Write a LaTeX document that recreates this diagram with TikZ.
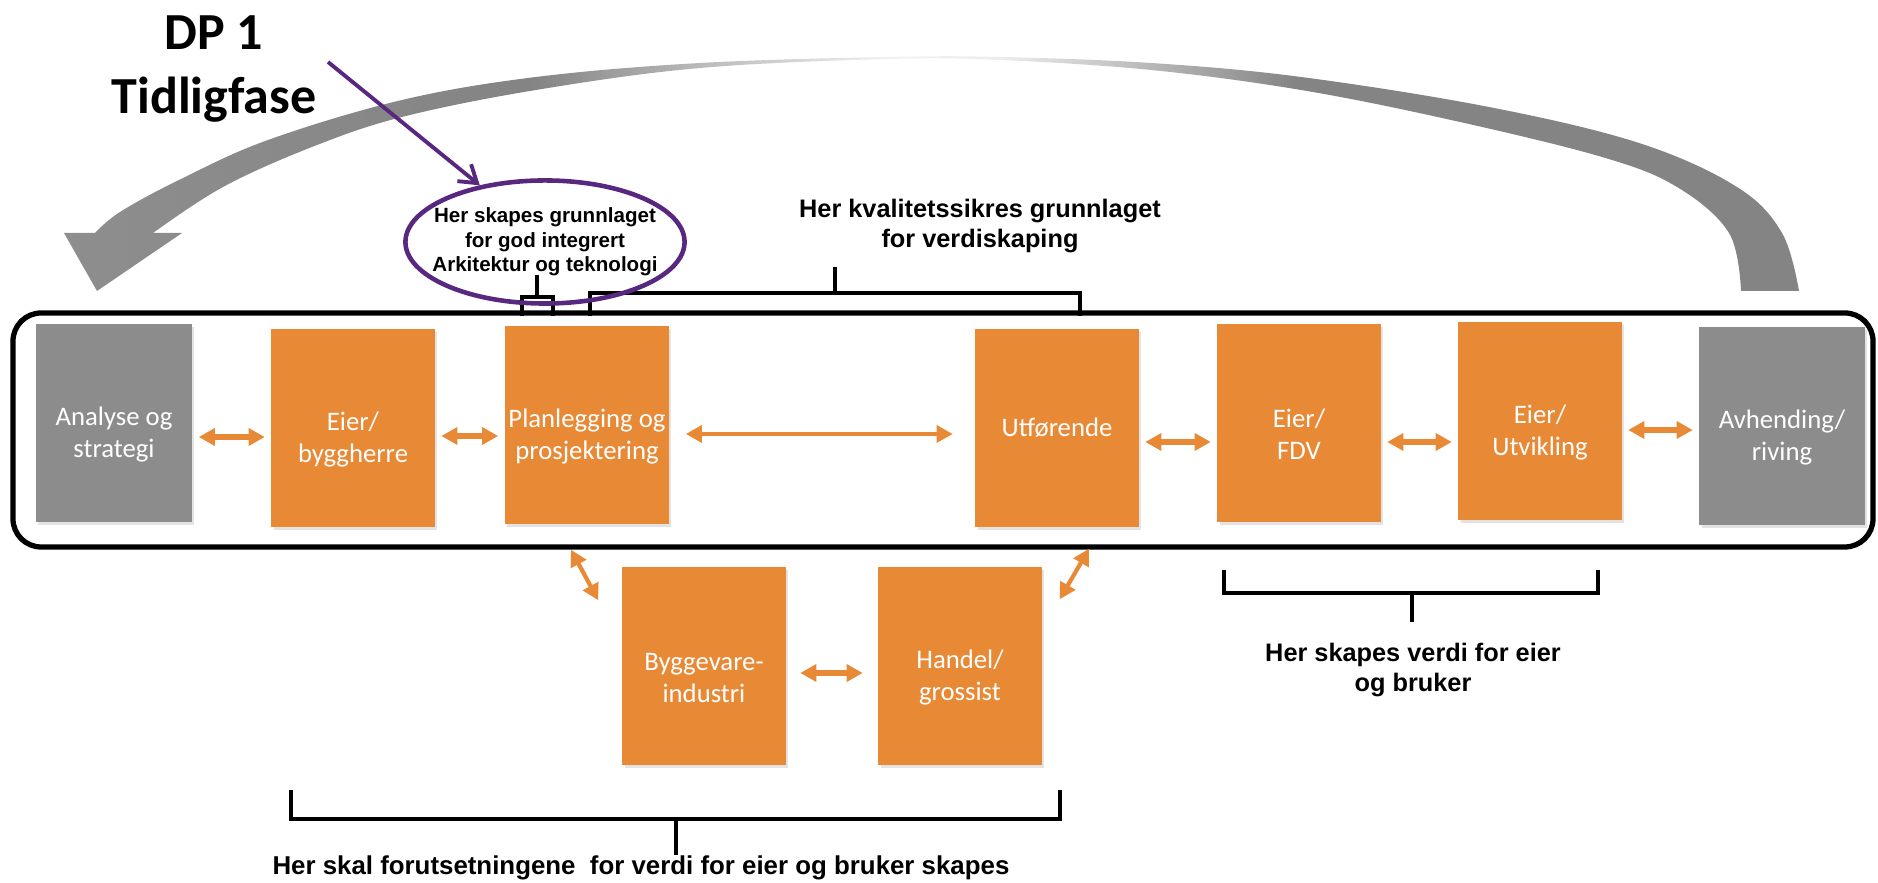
\documentclass[tikz,border=0pt]{standalone}
\usepackage{fontspec}
\setmainfont{Carlito}
\newfontfamily\VkLabelFont{Liberation Sans}
\usetikzlibrary{arrows.meta,shapes.geometric,shadows}

\definecolor{vkorange}{RGB}{232,137,54}
\definecolor{vkgrey}{RGB}{140,140,140}
\definecolor{vkarc}{RGB}{132,132,132}
\definecolor{vkpurple}{RGB}{88,40,128}
% the path is mapped onto 25bp..75bp of the shading
\pgfdeclarehorizontalshading{vkarcshade}{100bp}{color(0bp)=(vkarc!92); color(25bp)=(vkarc!92);
  color(38.5bp)=(vkarc); color(43.5bp)=(vkarc!55); color(48.75bp)=(vkarc!12);
  color(52bp)=(vkarc!15); color(56.5bp)=(vkarc!60); color(60.5bp)=(vkarc); color(100bp)=(vkarc)}

\def\VkBoxW{1.63cm}
\def\VkBoxH{1.98cm}
\def\VkLinkLW{1.9pt}
\def\VkLinkThinLW{1.2pt}
\def\VkBracketLW{1.4pt}
\def\VkFrameLW{1.5pt}
% lifts the first of two lines, as in the slide
\newcommand{\VkLift}{\rule{0pt}{11.9pt}}
\newcommand{\VerdikjedeStyles}{%
  \tikzset{
    vkbox/.style={rectangle, minimum width=\VkBoxW, minimum height=\VkBoxH,
      inner sep=1pt, align=center, text=white,
      font=\fontsize{7.6}{9.1}\selectfont,
      drop shadow={opacity=0.22, shadow xshift=0.6pt, shadow yshift=-0.9pt}},
    vkboxOrange/.style={vkbox, fill=vkorange},
    vkboxGrey/.style={vkbox, fill=vkgrey},
    vklink/.style={
      {Triangle[width=4.8pt,length=4.6pt]}-{Triangle[width=4.8pt,length=4.6pt]},
      draw=vkorange, line width=\VkLinkLW,
      shorten <=0.06cm, shorten >=0.06cm},
    vklinkThin/.style={vklink, line width=\VkLinkThinLW},
    vkframe/.style={draw=black, line width=\VkFrameLW, rounded corners=8pt},
    vkbracket/.style={draw=black, line width=\VkBracketLW, line join=miter},
    vklabel/.style={font=\VkLabelFont\bfseries\fontsize{7.2}{8.4}\selectfont,
      align=center, inner sep=0pt},
    vktitle/.style={font=\bfseries\fontsize{14.8}{18.2}\selectfont,
      align=center, inner sep=0pt},
    vkring/.style={ellipse, draw=vkpurple, line width=1.3pt,
      minimum width=2.79cm, minimum height=1.23cm,
      inner xsep=-0.16cm, inner ysep=0pt, align=center,
      font=\VkLabelFont\bfseries\fontsize{5.85}{6.9}\selectfont},
    vkpointer/.style={-{Straight Barb[length=4.7pt,width=6.2pt]},
      draw=vkpurple, line width=1.1pt},
    vkloop/.style={shading=vkarcshade},
  }%
}

\begin{document}
\begin{tikzpicture}[x=0.01cm, y=-0.01cm]
  \VerdikjedeStyles
  \useasboundingbox (0,0) rectangle (1878,883);

  % big return arrow
  \shade[vkloop]
    plot[smooth, tension=0.6] coordinates {(95,233) (120,212) (179,180)
      (268,140) (402,100) (536,77) (700,63) (888,57) (1000,57) (1151,63)
      (1301,77) (1489,107) (1639,143) (1737,187) (1782,233) (1799,291)}
    -- (1741,291)
    -- plot[smooth, tension=0.6] coordinates {(1741,291) (1729,233)
      (1677,187) (1602,157) (1451,120) (1301,90) (1151,70) (1000,60)
      (888,59) (700,68) (536,90) (402,117) (312,147) (223,187) (153,233)}
    -- (182,233) -- (97,291) -- (64,233) -- cycle;

  \draw[vkframe] (13,313) rectangle (1873,547);

  % value chain
  \node[vkboxGrey, minimum width=1.56cm] (analyse) at (114,423) {\VkLift Analyse og\\strategi};
  \node[vkboxOrange] (byggherre) at (353,428) {\VkLift Eier/\\byggherre};
  \node[vkboxOrange] (planlegging) at (587,425) {\VkLift Planlegging og\\prosjektering};
  \node[vkboxOrange] (utforende) at (1057,428) {Utførende};
  \node[vkboxOrange] (fdv) at (1299,423) {\VkLift Eier/\\FDV};
  \node[vkboxOrange] (utvikling) at (1540,421) {\VkLift Eier/\\Utvikling};
  \node[vkboxGrey, minimum width=1.65cm] (avhending) at (1782,426) {\VkLift Avhending/\\riving};
  \node[vkboxOrange] (byggevare) at (704,666) {\VkLift Byggevare-\\industri};
  \node[vkboxOrange] (handel) at (960,666) {\VkLift Handel/\\grossist};

  \draw[vklink] ([yshift=-0.14cm]analyse.east) -- ([yshift=-0.14cm]analyse.east -| byggherre.west);
  \draw[vklink] ([yshift=-0.08cm]byggherre.east) -- ([yshift=-0.08cm]byggherre.east -| planlegging.west);
  \draw[vklinkThin, shorten <=0.16cm, shorten >=0.22cm]
    ([yshift=-0.09cm]planlegging.east) -- ([yshift=-0.09cm]planlegging.east -| utforende.west);
  \draw[vklink] ([yshift=-0.14cm]utforende.east) -- ([yshift=-0.14cm]utforende.east -| fdv.west);
  \draw[vklink] ([yshift=-0.19cm]fdv.east) -- ([yshift=-0.19cm]fdv.east -| utvikling.west);
  \draw[vklink] ([yshift=-0.09cm]utvikling.east) -- ([yshift=-0.09cm]utvikling.east -| avhending.west);
  \draw[vklink, shorten <=0.14cm, shorten >=0.15cm]
    ([yshift=-0.07cm]byggevare.east) -- ([yshift=-0.07cm]byggevare.east -| handel.west);
  \draw[vklinkThin, shorten <=0pt, shorten >=0pt]
    ([xshift=-0.16cm,yshift=-0.25cm]planlegging.south) -- ([xshift=-0.235cm,yshift=-0.34cm]byggevare.north west);
  \draw[vklinkThin, shorten <=0pt, shorten >=0pt]
    ([xshift=0.32cm,yshift=-0.21cm]utforende.south) -- ([xshift=0.175cm,yshift=-0.33cm]handel.north east);

  % brackets
  \draw[vkbracket] (590,316) -- (590,293) -- (1080,293) -- (1080,316) (835,293) -- (835,267);
  \draw[vkbracket] (522,316) -- (522,297) -- (553,297) -- (553,316) (537,297) -- (537,275);
  \draw[vkbracket] (1224,570) -- (1224,593) -- (1598,593) -- (1598,570) (1412,593) -- (1412,622);
  \draw[vkbracket] (291,790) -- (291,819) -- (1060,819) -- (1060,790) (676,819) -- (676,855);

  \node[vklabel] (kvalitet) at (980,226) {Her kvalitetssikres grunnlaget\\for verdiskaping};
  \node[vklabel] (verdi) at (1413,670) {Her skapes verdi for eier\\og bruker};
  \node[vklabel, anchor=base, font=\VkLabelFont\bfseries\fontsize{7.35}{8.4}\selectfont]
    (forutsetning) at (641,875)
    {Her skal forutsetningene\ \ for verdi for eier og bruker skapes};

  % early phase
  \node[vkring] (grunnlag) at (545,242)
    {Her skapes grunnlaget\\for god integrert\\Arkitektur og teknologi};
  \node[vktitle] (dpone) at (214,69) {DP 1\\Tidligfase};
  \coordinate (dpTail) at (328,62);
  \draw[vkpointer] (dpTail) -- (grunnlag.139);
\end{tikzpicture}
\end{document}
